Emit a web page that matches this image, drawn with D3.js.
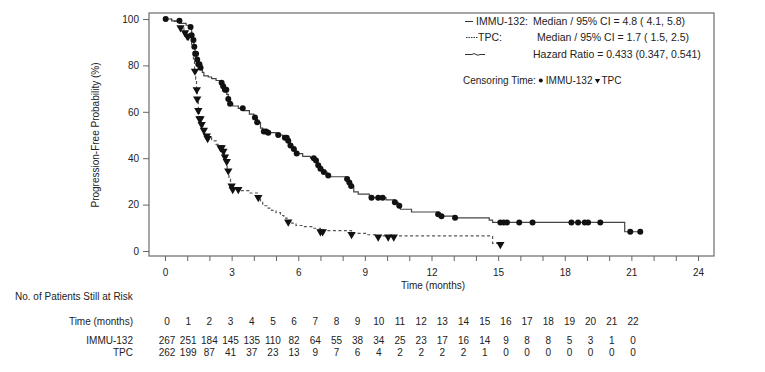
<!DOCTYPE html>
<html>
<head>
<meta charset="utf-8">
<script src="https://cdn.jsdelivr.net/npm/d3@7"></script>
<style>
  body { margin: 0; background: #fff; }
  text { font-family: "Liberation Sans", Arial, sans-serif; fill: #222; }
</style>
</head>
<body>
<div id="chart"></div>
<script>
// KM step points (months, % progression-free)
var immuTime = [0, 0.3, 0.68, 0.95, 1.13, 1.2, 1.25, 1.3, 1.35, 1.42, 1.5, 1.58, 1.68, 1.75, 1.95, 2.1, 2.3, 2.48, 2.58, 2.68, 2.78, 2.85, 2.93, 3.05, 3.3, 3.55, 3.8, 4.0, 4.15, 4.3, 4.4, 4.6, 5.0, 5.3, 5.5, 5.62, 5.75, 5.9, 6.2, 6.55, 6.75, 6.88, 7.0, 7.1, 7.3, 7.43, 8.15, 8.3, 8.35, 8.5, 8.7, 9.2, 9.95, 10.35, 10.5, 10.6, 11.1, 12.3, 12.4, 13.0, 14.6, 14.75, 20.7, 21.4];
var immuSurv = [100, 99.2, 98.1, 97.3, 96.5, 93, 91, 88, 85, 82.5, 80.5, 79, 77, 75.5, 75, 74.3, 73.5, 72.5, 71, 69.5, 67.5, 65.5, 63.5, 62.5, 61.5, 60.5, 59, 57.5, 55.5, 53, 51.5, 51, 50, 48.8, 47.5, 45.5, 44, 42, 40.8, 40, 39, 37, 35.5, 34, 32.5, 32, 31, 29.5, 28, 25.5, 24.5, 23, 22, 21, 19.5, 18, 16.8, 15.8, 15, 14.3, 13.3, 12.3, 8.3, 8.3];
var tpcTime = [0, 0.3, 0.68, 0.85, 1.0, 1.1, 1.2, 1.28, 1.33, 1.38, 1.42, 1.45, 1.5, 1.55, 1.62, 1.7, 1.8, 1.9, 2.1, 2.3, 2.5, 2.6, 2.68, 2.72, 2.8, 2.88, 2.95, 3.05, 3.4, 3.8, 4.2, 4.3, 4.4, 4.6, 4.8, 5.0, 5.2, 5.35, 5.5, 5.7, 5.9, 6.2, 6.7, 7.0, 8.4, 9.1, 9.5, 14.75, 15.1];
var tpcSurv = [100, 99, 96.7, 94.5, 93, 92, 89, 82, 78, 74, 70, 66, 61, 57.5, 55, 52.5, 50, 49, 47.5, 46, 45, 43.5, 41, 39, 35, 31, 28.5, 27, 26, 25, 23.5, 21, 19.5, 18.5, 17.5, 16.5, 15.3, 14.2, 13, 12, 11, 10.5, 9.8, 8.8, 7.6, 7.0, 6.5, 3.3, 3.3];

// censoring times
var immuCensor = [0.03, 0.65, 1.15, 1.2, 1.28, 1.32, 1.36, 1.4, 1.45, 1.5, 1.55, 1.6, 2.55, 2.62, 2.7, 2.76, 2.85, 2.93, 3.5, 4.05, 4.15, 4.45, 4.55, 4.65, 5.1, 5.4, 5.48, 5.55, 5.65, 5.8, 5.93, 6.7, 6.8, 6.9, 7.0, 7.15, 7.35, 8.2, 8.3, 8.38, 9.3, 9.6, 9.8, 10.35, 10.55, 12.3, 12.45, 13.06, 15.1, 15.25, 15.4, 15.95, 16.55, 18.3, 18.6, 18.9, 19.05, 19.6, 20.95, 21.4];
var tpcCensor = [0.7, 0.9, 1.0, 1.05, 1.35, 1.43, 1.45, 1.5, 1.55, 1.6, 1.65, 1.75, 1.88, 1.92, 2.5, 2.55, 2.63, 2.7, 2.78, 2.85, 3.0, 3.05, 3.3, 4.2, 5.55, 7.0, 7.1, 8.4, 9.6, 10.05, 10.3, 15.1];

var yTicks = [0, 20, 40, 60, 80, 100];

// number at risk
var riskMonths = [0, 1, 2, 3, 4, 5, 6, 7, 8, 9, 10, 11, 12, 13, 14, 15, 16, 17, 18, 19, 20, 21, 22];
var riskImmu = [267, 251, 184, 145, 135, 110, 82, 64, 55, 38, 34, 25, 23, 17, 16, 14, 9, 8, 8, 5, 3, 1, 0];
var riskTpc = [262, 199, 87, 41, 37, 23, 13, 9, 7, 6, 4, 2, 2, 2, 2, 1, 0, 0, 0, 0, 0, 0, 0];

var legendLabels = ['IMMU-132:', 'TPC:', ''];
var legendStats = ['Median / 95% CI = 4.8 ( 4.1, 5.8)', 'Median / 95% CI = 1.7 ( 1.5, 2.5)', 'Hazard Ratio = 0.433 (0.347, 0.541)'];

var width = 765, height = 372;
var frame = { left: 149, top: 13, right: 714, bottom: 256 };

var svg = d3.select('#chart').append('svg')
  .attr('width', width)
  .attr('height', height);

var x = d3.scaleLinear().domain([0, 24]).range([165, 698]);
var y = d3.scaleLinear().domain([0, 100]).range([251, 19]);

// frame
svg.append('rect')
  .attr('x', frame.left).attr('y', frame.top)
  .attr('width', frame.right - frame.left)
  .attr('height', frame.bottom - frame.top)
  .attr('fill', 'none')
  .attr('stroke', '#777')
  .attr('stroke-width', 1.3);

// y axis
var gy = svg.append('g')
  .attr('transform', 'translate(' + frame.left + ',0)')
  .call(d3.axisLeft(y).tickValues(yTicks).tickSizeInner(6).tickSizeOuter(0).tickPadding(4));
gy.select('.domain').remove();
gy.selectAll('line').attr('stroke', '#666');
gy.selectAll('text').style('font-size', '10px').attr('fill', '#222');

// x axis, ticks every month, labels every 3
var gx = svg.append('g')
  .attr('transform', 'translate(0,' + frame.bottom + ')')
  .call(d3.axisBottom(x).tickValues(d3.range(0, 25)).tickSizeInner(5).tickSizeOuter(0).tickPadding(8)
    .tickFormat(function (d) { return d % 3 === 0 ? d : ''; }));
gx.select('.domain').remove();
gx.selectAll('line').attr('stroke', '#666');
gx.selectAll('text').style('font-size', '10px').attr('fill', '#222');

svg.append('text')
  .attr('transform', 'translate(99,135) rotate(-90)')
  .attr('text-anchor', 'middle')
  .style('font-size', '10px')
  .text('Progression-Free Probability (%)');

svg.append('text')
  .attr('x', 433).attr('y', 289)
  .attr('text-anchor', 'middle')
  .style('font-size', '10px')
  .text('Time (months)');

function toPoints(times, surv) {
  return times.map(function (t, i) { return { t: t, s: surv[i] }; });
}
function survAt(times, surv, t) {
  var i = d3.bisectRight(times, t) - 1;
  return surv[Math.max(0, i)];
}

var line = d3.line()
  .x(function (d) { return x(d.t); })
  .y(function (d) { return y(d.s); })
  .curve(d3.curveStepAfter);

svg.append('path')
  .attr('d', line(toPoints(tpcTime, tpcSurv)))
  .attr('fill', 'none')
  .attr('stroke', '#555')
  .attr('stroke-width', 1.2)
  .attr('stroke-dasharray', '3,2.5');

svg.append('path')
  .attr('d', line(toPoints(immuTime, immuSurv)))
  .attr('fill', 'none')
  .attr('stroke', '#444')
  .attr('stroke-width', 1.2);

var tri = d3.symbol().type(d3.symbolTriangle).size(30);

svg.append('g').selectAll('path')
  .data(tpcCensor)
  .enter().append('path')
  .attr('d', tri)
  .attr('transform', function (t) {
    return 'translate(' + x(t) + ',' + (y(survAt(tpcTime, tpcSurv, t)) + 1) + ') rotate(180)';
  })
  .attr('fill', '#111');

svg.append('g').selectAll('circle')
  .data(immuCensor)
  .enter().append('circle')
  .attr('cx', function (t) { return x(t); })
  .attr('cy', function (t) { return y(survAt(immuTime, immuSurv, t)); })
  .attr('r', 3)
  .attr('fill', '#111');

// legend
var legY = [25, 41, 58];
var labelX = [476, 478, 0];
var statX = [533, 537, 533];
var leg = svg.append('g');
leg.append('line').attr('x1', 465).attr('x2', 473).attr('y1', 21.5).attr('y2', 21.5)
  .attr('stroke', '#333').attr('stroke-width', 1);
leg.append('line').attr('x1', 466).attr('x2', 478).attr('y1', 37.5).attr('y2', 37.5)
  .attr('stroke', '#333').attr('stroke-width', 1).attr('stroke-dasharray', '1.5,1');
leg.append('path')
  .attr('d', 'M465,54.5 L472,54.5 Q474,52.5 476,54.5 Q478,56 480,54.5 L485,54.5')
  .attr('fill', 'none').attr('stroke', '#333').attr('stroke-width', 1);
leg.selectAll('text.lab')
  .data(legendLabels)
  .enter().append('text')
  .attr('class', 'lab')
  .attr('x', function (d, i) { return labelX[i]; })
  .attr('y', function (d, i) { return legY[i]; })
  .style('font-size', '10.5px')
  .text(function (d) { return d; });
leg.selectAll('text.stat')
  .data(legendStats)
  .enter().append('text')
  .attr('class', 'stat')
  .attr('x', function (d, i) { return statX[i]; })
  .attr('y', function (d, i) { return legY[i]; })
  .style('font-size', '10.5px')
  .text(function (d) { return d; });

// censoring key, laid out from measured text widths
var cy = 84;
var cx = 463;
var t1 = leg.append('text').attr('x', cx).attr('y', cy).style('font-size', '10px').text('Censoring Time:');
cx += t1.node().getComputedTextLength() + 5;
leg.append('circle').attr('cx', cx).attr('cy', cy - 3.5).attr('r', 2).attr('fill', '#111');
cx += 5;
var t2 = leg.append('text').attr('x', cx).attr('y', cy).style('font-size', '10px').text('IMMU-132');
cx += t2.node().getComputedTextLength() + 5;
leg.append('path').attr('d', d3.symbol().type(d3.symbolTriangle).size(12))
  .attr('transform', 'translate(' + cx + ',' + (cy - 3.5) + ') rotate(180)').attr('fill', '#111');
cx += 4;
leg.append('text').attr('x', cx).attr('y', cy).style('font-size', '10px').text('TPC');

// risk table
var col = d3.scalePoint().domain(riskMonths).range([167, 633]);
svg.append('text').attr('x', 15).attr('y', 300).style('font-size', '10px')
  .text('No. of Patients Still at Risk');

var rows = [
  { label: 'Time (months)', values: riskMonths, y: 325 },
  { label: 'IMMU-132', values: riskImmu, y: 344 },
  { label: 'TPC', values: riskTpc, y: 355.5 }
];
rows.forEach(function (r) {
  svg.append('text').attr('x', 133).attr('y', r.y)
    .attr('text-anchor', 'end').style('font-size', '10px')
    .text(r.label);
  svg.append('g').selectAll('text')
    .data(r.values)
    .enter().append('text')
    .attr('x', function (d, i) { return col(riskMonths[i]); })
    .attr('y', r.y)
    .attr('text-anchor', 'middle')
    .style('font-size', '10px')
    .text(function (d) { return d; });
});
</script>
</body>
</html>
